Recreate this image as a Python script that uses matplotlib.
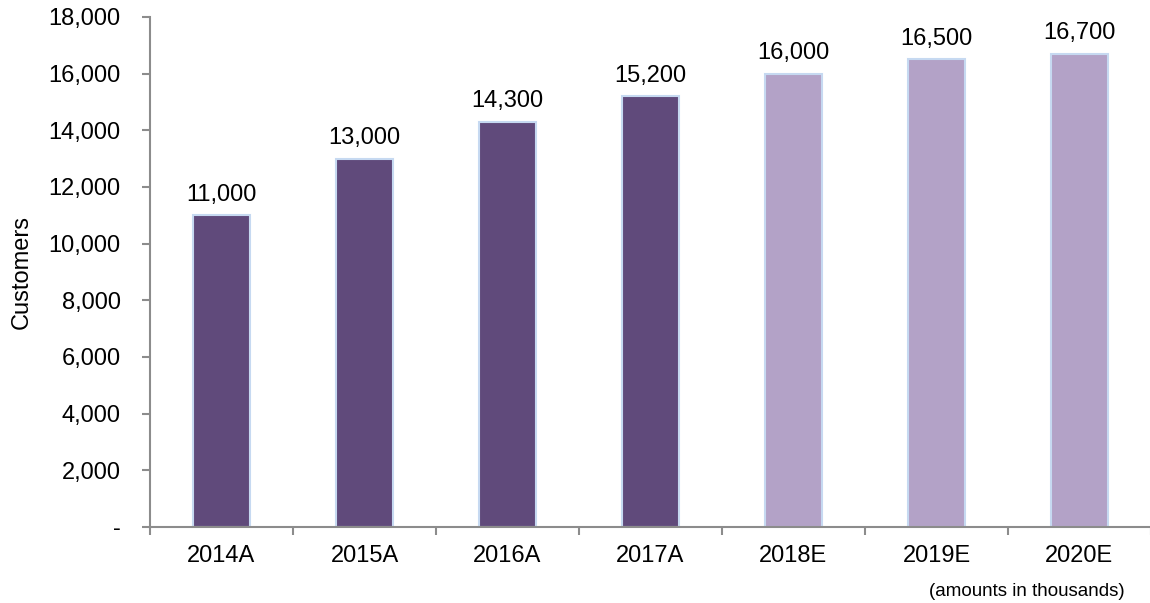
import numpy as np
import matplotlib
matplotlib.use("Agg")
from matplotlib import pyplot as plt
from matplotlib.ticker import FuncFormatter, FixedLocator

plt.rcParams['font.family'] = ['Liberation Sans', 'DejaVu Sans']

years = ['2014A', '2015A', '2016A', '2017A', '2018E', '2019E', '2020E']
customers = [11000, 13000, 14300, 15200, 16000, 16500, 16700]
is_actual = [True, True, True, True, False, False, False]

dark = '#604a7b'
light = '#b3a2c7'
edge = '#c6d9f1'
spine_col = '#8c8c8c'
fs = 17

fig = plt.figure(figsize=(11.5, 6.03), dpi=100)
ax = fig.add_axes([150 / 1150, 1 - 527 / 603, 1001 / 1150, (527 - 17) / 603])

x = np.arange(len(years))
colors = [dark if a else light for a in is_actual]
bars = ax.bar(x, customers, width=0.4, color=colors, edgecolor=edge, linewidth=1.5, zorder=2)

# labels above bars
for xi, v in zip(x, customers):
    ax.annotate(f'{v:,}', (xi, v), xytext=(0, 7), textcoords='offset points',
                ha='center', va='bottom', fontsize=fs, color='#000000')

ax.set_xlim(-0.5, len(years) - 0.5)
ax.set_ylim(0, 18000)
ax.set_yticks(np.arange(0, 18001, 2000))
ax.yaxis.set_major_formatter(FuncFormatter(lambda v, p: '-' if v == 0 else f'{int(v):,}'))

ax.set_xticks(x)
ax.set_xticklabels(years)
ax.xaxis.set_minor_locator(FixedLocator(np.arange(-0.5, len(years), 1.0)))
ax.tick_params(axis='x', which='major', length=0, pad=13, labelsize=fs)
ax.tick_params(axis='x', which='minor', length=6, width=1.5, color=spine_col, direction='out')
ax.tick_params(axis='y', length=6, width=1.5, color=spine_col, direction='out', pad=15, labelsize=fs)

for s in ['top', 'right']:
    ax.spines[s].set_visible(False)
for s in ['left', 'bottom']:
    ax.spines[s].set_color(spine_col)
    ax.spines[s].set_linewidth(1.5)

# y axis title
fig.text(22 / 1150, 1 - 272 / 603, 'Customers', rotation=90, ha='center', va='center', fontsize=fs)

fig.text(1125 / 1150, 1 - 591 / 603, '(amounts in thousands)', ha='right', va='center', fontsize=13.5)

fig.savefig('out.png', dpi=100)
